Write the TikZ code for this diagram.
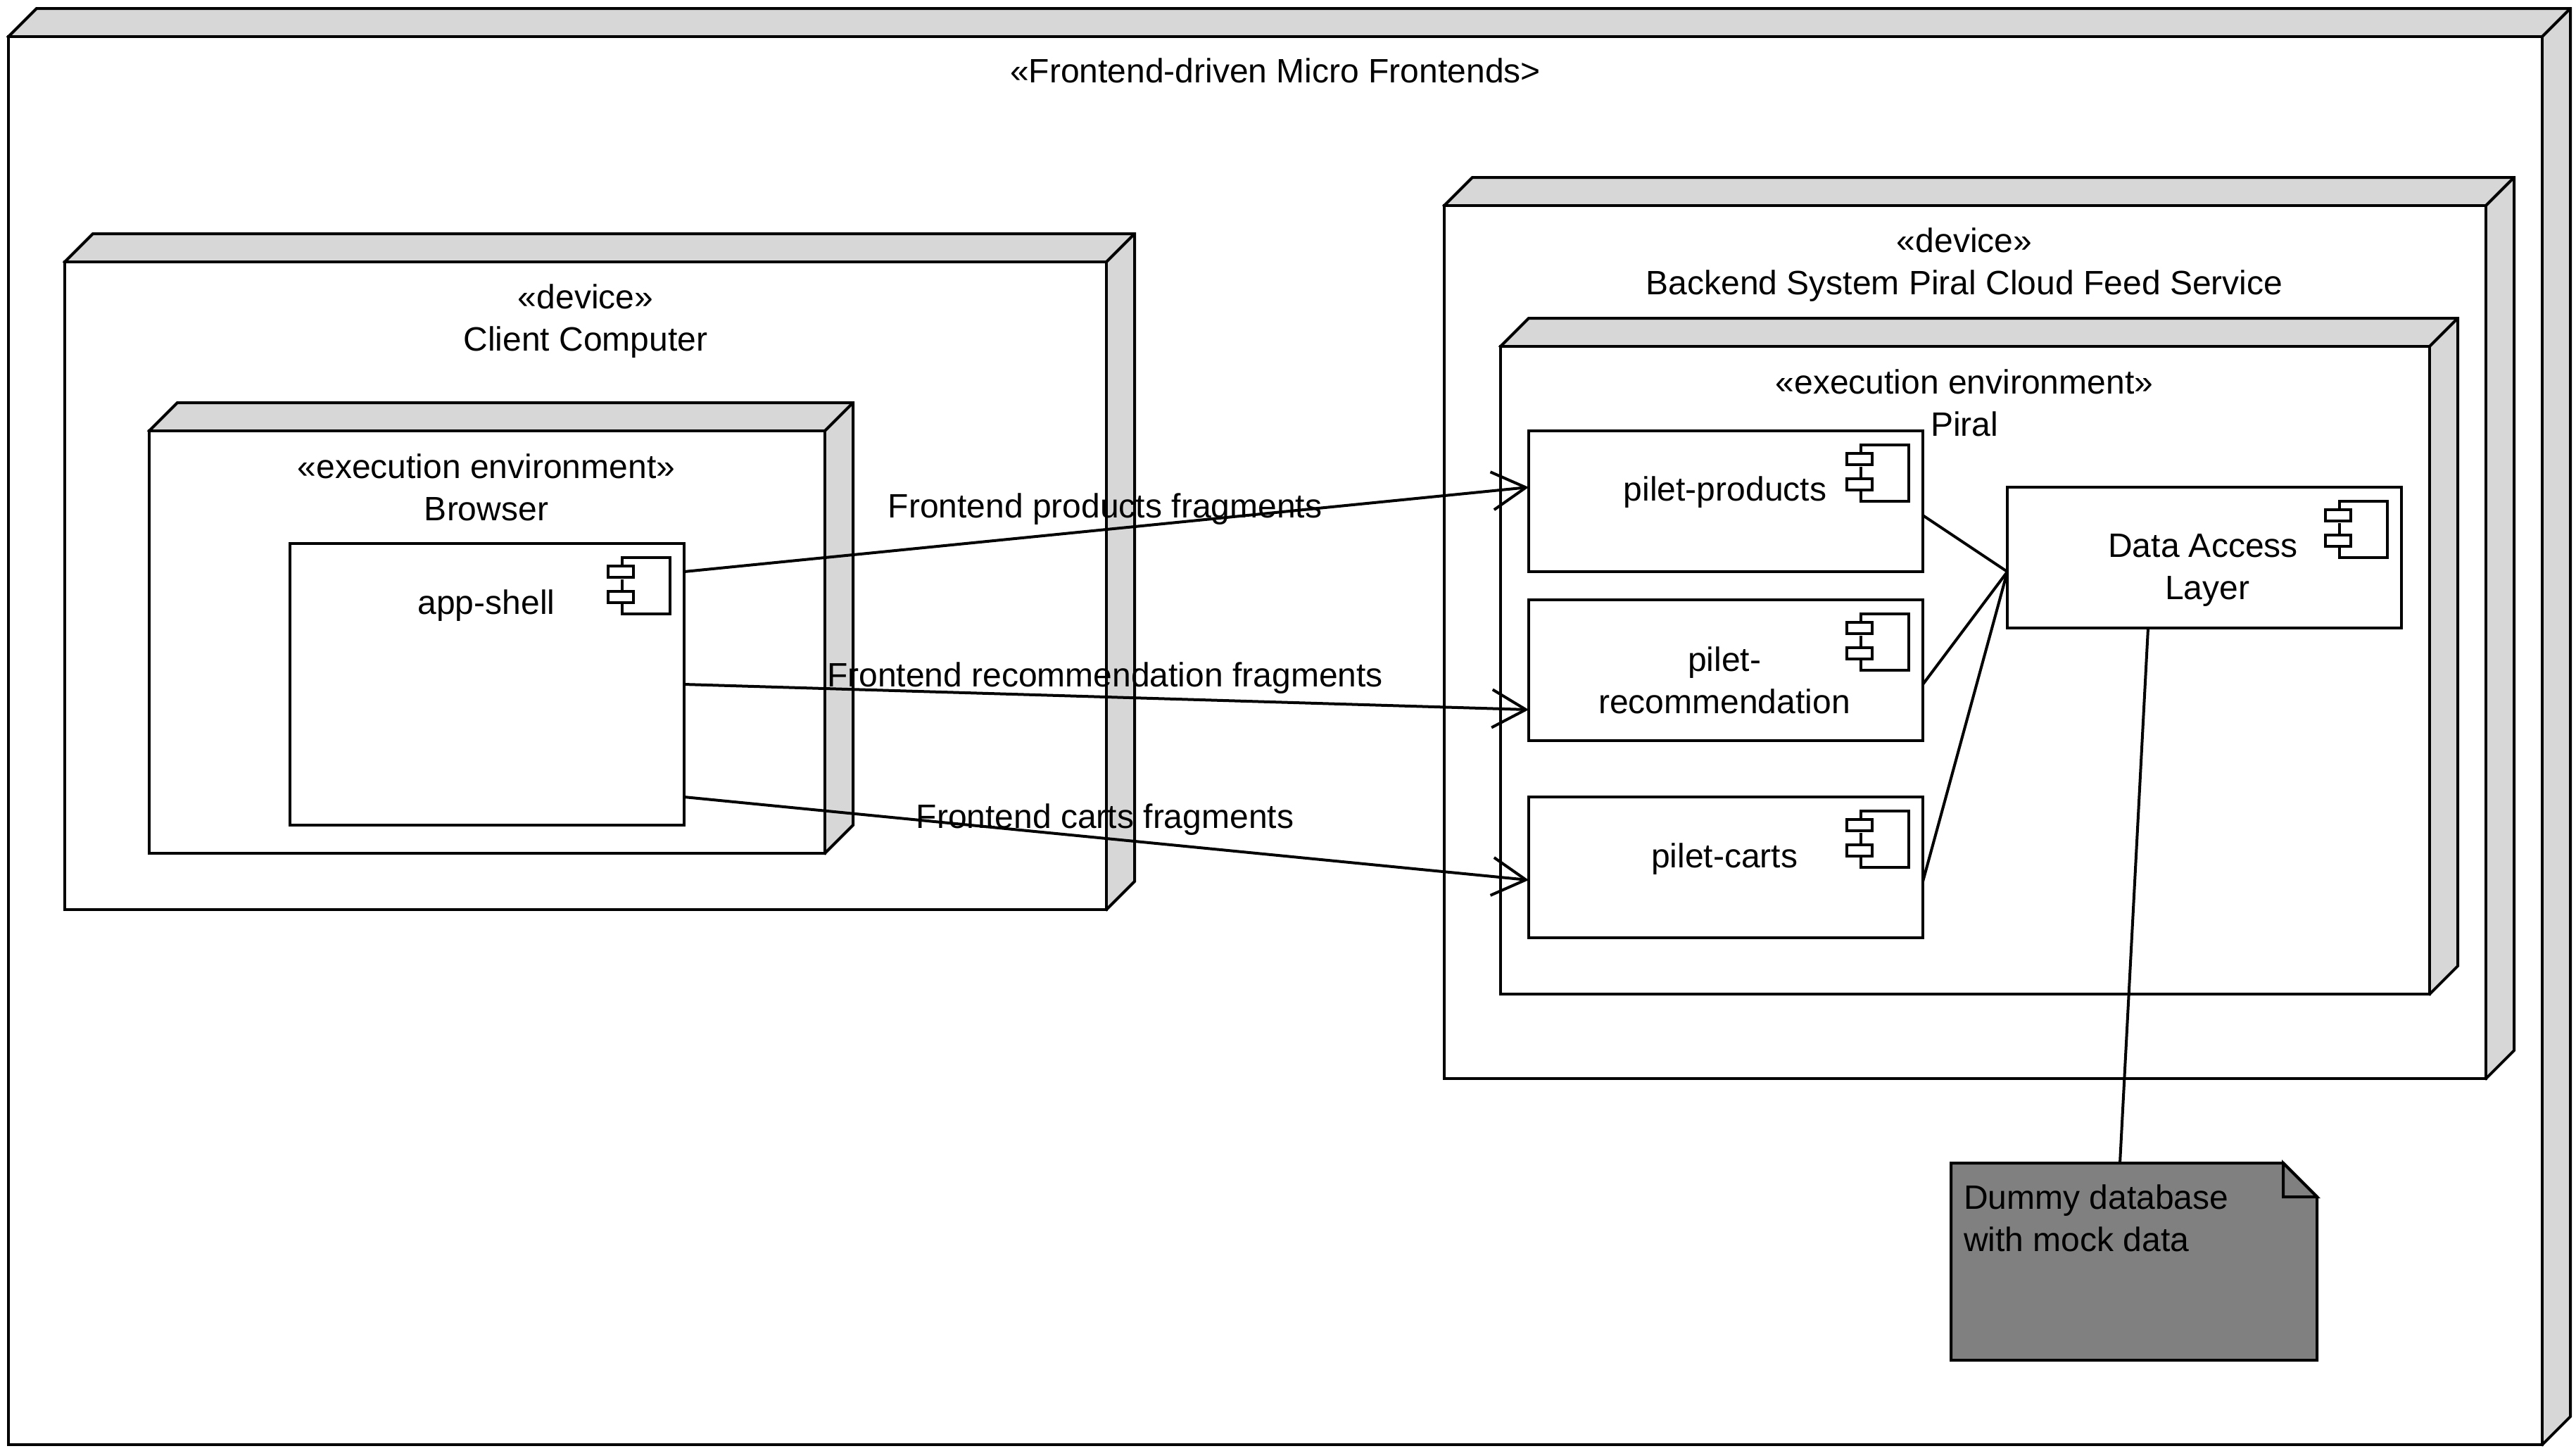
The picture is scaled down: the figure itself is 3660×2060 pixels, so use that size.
\documentclass[tikz,border=0pt]{standalone}
\usepackage{fontspec}
\setmainfont{Liberation Sans}
\usetikzlibrary{arrows.meta}
\definecolor{sidegray}{HTML}{D7D7D7}
\definecolor{notegray}{HTML}{808080}
\tikzset{
  x=0.25pt,y=-0.25pt,
  every path/.style={line width=1pt,line join=miter},
  frontbox/.style={draw=black,fill=white,rectangle,inner sep=0pt,outer sep=0pt,line width=1pt},
  sidebox/.style={draw=black,fill=sidegray,line width=1pt},
  lbl/.style={align=center,inner sep=0pt,outer sep=0pt,font=\fontsize{12pt}{15pt}\selectfont},
  flow/.style={draw=black,line width=1pt,-{Straight Barb[length=12pt,width=13.5pt,line width=1pt]}},
  link/.style={draw=black,line width=1pt},
}
\newcommand{\cubenode}[5]{%
  \draw[sidebox] (#2,#3) -- ({#2+40},{#3-40}) -- ({#4+40},{#3-40}) -- ({#4+40},{#5-40}) -- (#4,#5) -- cycle;
  \node[frontbox,minimum width={(#4-#2)*0.25pt},minimum height={(#5-#3)*0.25pt}] (#1) at ({(#2+#4)/2},{(#3+#5)/2}) {};
  \draw[link] (#1.north east) -- ({#4+40},{#3-40});
}
\newcommand{\compnode}[5]{%
  \node[frontbox,minimum width={(#4-#2)*0.25pt},minimum height={(#5-#3)*0.25pt}] (#1) at ({(#2+#4)/2},{(#3+#5)/2}) {};
  \draw[link] ({#4-88},{#3+32}) -- ({#4-88},{#3+20}) -- ({#4-20},{#3+20}) -- ({#4-20},{#3+100}) -- ({#4-88},{#3+100}) -- ({#4-88},{#3+84});
  \draw[link] ({#4-88},{#3+68}) -- ({#4-88},{#3+51});
  \draw[link] ({#4-108},{#3+32}) rectangle ({#4-72},{#3+48});
  \draw[link] ({#4-108},{#3+68}) rectangle ({#4-72},{#3+84});
}
\begin{document}
\begin{tikzpicture}
\useasboundingbox (0,0) rectangle (3660,2060);
% nodes
\cubenode{outer}{12}{52}{3612}{2052}
\cubenode{client}{92}{372}{1572}{1292}
\cubenode{browser}{212}{612}{1172}{1212}
\compnode{app}{412}{772}{972}{1172}
\cubenode{backend}{2052}{292}{3532}{1532}
\cubenode{piral}{2132}{492}{3452}{1412}
\compnode{prod}{2172}{612}{2732}{812}
\compnode{reco}{2172}{852}{2732}{1052}
\compnode{carts}{2172}{1132}{2732}{1332}
\compnode{dal}{2852}{692}{3412}{892}
% note
\node[inner sep=0pt,outer sep=0pt,minimum width=130pt,minimum height=70pt] (note) at (3032,1792) {};
\draw[draw=black,fill=notegray,line width=1pt] (note.north west) -- (3244,1652) -- (3292,1700) -- (note.south east) -- (note.south west) -- cycle;
\draw[draw=black,fill=notegray,line width=1pt] (3244,1652) -- (3244,1700) -- (3292,1700) -- cycle;
% texts
\node[lbl] (ttitle) at (1812,100) {«Frontend-driven Micro Frontends>};
\node[lbl] (tclient) at (832,456) {«device»\\Client Computer};
\node[lbl] (tbrowser) at (691,692) {«execution environment»\\Browser};
\node[lbl] (tapp) at (691,860) {app-shell};
\node[lbl] (tbackend) at (2791,376) {«device»\\Backend System Piral Cloud Feed Service};
\node[lbl] (tpiral) at (2791,572) {«execution environment»\\Piral};
\node[lbl] (tprod) at (2451,699) {pilet-products};
\node[lbl] (treco) at (2450,966) {pilet-\\recommendation};
\node[lbl] (tcarts) at (2450,1220) {pilet-carts};
\node[lbl] (tdal) at (3136,810) {Data Access\hspace*{3pt}\\Layer};
\node[lbl,align=left,anchor=west] (tnote) at (2790,1730) {Dummy database\\with mock data};
% connectors
\draw[flow] ([yshift=40pt]app.east) -- ([yshift=5pt]prod.west);
\draw[flow] (app.east) -- ([yshift=-14pt]reco.west);
\draw[flow] ([yshift=-40pt]app.east) -- ([yshift=-4.5pt]carts.west);
\draw[link] ([yshift=-5pt]prod.east) -- ([yshift=-5pt]dal.west);
\draw[link] ([yshift=-5pt]reco.east) -- ([yshift=-5pt]dal.west);
\draw[link] ([yshift=-5pt]carts.east) -- ([yshift=-5pt]dal.west);
\draw[link] ([xshift=-20pt]dal.south) -- ([xshift=-5pt]note.north);
% edge labels
\node[lbl] (eprod) at (1570,723) {Frontend products fragments};
\node[lbl] (ereco) at (1570,963) {Frontend recommendation fragments};
\node[lbl] (ecarts) at (1570,1164) {Frontend carts fragments};
\end{tikzpicture}
\end{document}
